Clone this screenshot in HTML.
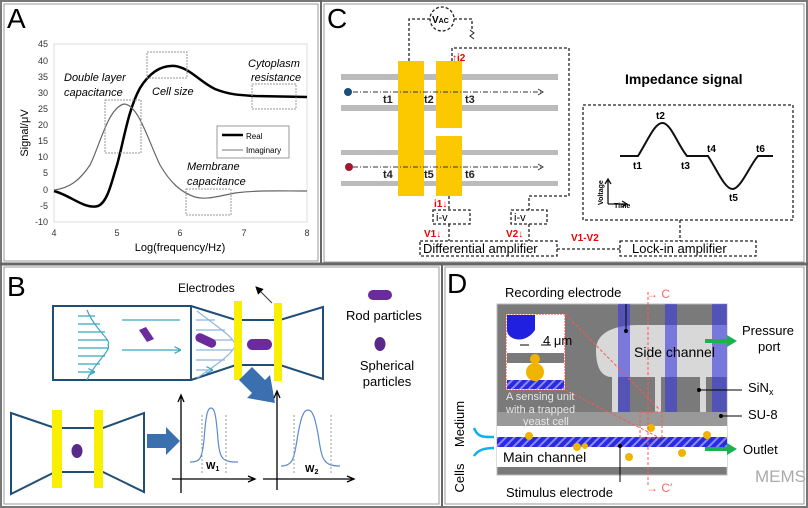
<!DOCTYPE html>
<html><head><meta charset="utf-8"><style>
html,body{margin:0;padding:0;background:#fff}
svg{display:block;font-family:"Liberation Sans",Arial,sans-serif}
</style></head><body>
<svg width="808" height="508" viewBox="0 0 808 508" xmlns="http://www.w3.org/2000/svg">
<defs>
<pattern id="hatch" width="6" height="6" patternUnits="userSpaceOnUse" patternTransform="rotate(45)">
<rect width="6" height="6" fill="#2a2ae0"/><rect width="2" height="6" fill="#8a8af0"/></pattern>
<marker id="ar" markerWidth="8" markerHeight="8" refX="7" refY="4" orient="auto"><path d="M0,0L8,4L0,8z" fill="#000"/></marker>
<marker id="arc" markerWidth="6" markerHeight="6" refX="5" refY="3" orient="auto"><path d="M0,0L6,3L0,6" fill="none" stroke="#3aa6c0"/></marker>
</defs>
<rect x="1" y="1" width="806" height="506" fill="none" stroke="#777" stroke-width="2"/>
<line x1="321" y1="0" x2="321" y2="265" stroke="#666" stroke-width="2"/>
<line x1="0" y1="264" x2="808" y2="264" stroke="#666" stroke-width="3"/>
<line x1="442" y1="264" x2="442" y2="508" stroke="#666" stroke-width="2"/>
<rect x="4" y="4" width="314" height="257" fill="none" stroke="#999"/>
<rect x="324" y="4" width="480" height="258" fill="none" stroke="#999"/>
<rect x="4" y="267" width="435" height="237" fill="none" stroke="#999"/>
<rect x="445" y="267" width="359" height="237" fill="none" stroke="#999"/>

<!-- Panel A -->
<text x="7" y="28" font-size="28">A</text>
<rect x="54" y="44" width="253" height="178" fill="none" stroke="#ddd"/>
<g font-size="9" fill="#333" text-anchor="end">
<text x="48" y="47">45</text><text x="48" y="64">40</text><text x="48" y="80">35</text><text x="48" y="96">30</text><text x="48" y="112">25</text><text x="48" y="128">20</text><text x="48" y="144">15</text><text x="48" y="160">10</text><text x="48" y="176">5</text><text x="48" y="193">0</text><text x="48" y="209">-5</text><text x="48" y="225">-10</text>
</g>
<g font-size="9" fill="#333" text-anchor="middle"><text x="54" y="236">4</text><text x="117" y="236">5</text><text x="180" y="236">6</text><text x="244" y="236">7</text><text x="307" y="236">8</text></g>
<text x="180" y="251" font-size="11" text-anchor="middle">Log(frequency/Hz)</text>
<text transform="translate(28,133) rotate(-90)" font-size="11" text-anchor="middle">Signal/μV</text>
<path d="M54,191 C70,195 85,210 98,206 C108,202 112,180 117,165 C124,140 128,110 140,88 C150,72 162,65 175,66 C190,68 200,82 215,89 C230,95 240,95 255,96 L307,97" fill="none" stroke="#000" stroke-width="2.5"/>
<path d="M54,190 C70,188 80,180 90,165 C100,145 108,108 124,104 C138,104 148,140 160,165 C170,182 180,192 195,197 C205,200 215,197 235,193 C260,190 280,191 307,191" fill="none" stroke="#666" stroke-width="1.2"/>
<g fill="none" stroke="#999" stroke-dasharray="2,1">
<rect x="105" y="100" width="36" height="53"/><rect x="147" y="52" width="40" height="26"/><rect x="252" y="84" width="44" height="25"/><rect x="186" y="189" width="45" height="26"/></g>
<rect x="217" y="126" width="72" height="32" fill="#fff" stroke="#999"/>
<line x1="222" y1="135" x2="243" y2="135" stroke="#000" stroke-width="2.5"/><text x="246" y="139" font-size="8">Real</text>
<line x1="222" y1="150" x2="243" y2="150" stroke="#777"/><text x="246" y="153" font-size="8">Imaginary</text>
<g font-size="11" font-style="italic">
<text x="64" y="81">Double layer</text><text x="64" y="96">capacitance</text>
<text x="152" y="95">Cell size</text>
<text x="248" y="67">Cytoplasm</text><text x="251" y="81">resistance</text>
<text x="187" y="170">Membrane</text><text x="187" y="185">capacitance</text></g>

<!-- Panel C -->
<text x="327" y="28" font-size="28">C</text>
<g fill="#bbb"><rect x="341" y="74" width="217" height="6"/><rect x="341" y="105" width="217" height="6"/><rect x="341" y="150" width="217" height="5"/><rect x="341" y="181" width="217" height="5"/></g>
<g fill="#fcc800"><rect x="398" y="61" width="26" height="135"/><rect x="436" y="61" width="26" height="67"/><rect x="436" y="136" width="26" height="60"/></g>
<g stroke="#333" stroke-dasharray="5,2,1,2" fill="none"><line x1="353" y1="92" x2="543" y2="92"/><line x1="353" y1="167" x2="543" y2="167"/></g>
<path d="M538,89 L543,92 L538,95 M538,164 L543,167 L538,170" fill="none" stroke="#333"/>
<circle cx="348" cy="92" r="4" fill="#1a4f7a"/><circle cx="349" cy="167" r="4" fill="#a01830"/>
<g font-size="11" font-weight="bold" fill="#222"><text x="383" y="103">t1</text><text x="424" y="103">t2</text><text x="465" y="103">t3</text><text x="383" y="178">t4</text><text x="424" y="178">t5</text><text x="465" y="178">t6</text></g>
<g fill="none" stroke="#222" stroke-width="1.3" stroke-dasharray="3,2">
<path d="M409,61 V19 H430"/><circle cx="442" cy="19" r="12"/><path d="M454,19 H472 V30"/>
<path d="M452,61 V48 H569 V196 H529 V210"/><path d="M449,196 V210"/><path d="M449,224 V241"/><path d="M529,224 V241"/>
<rect x="433" y="210" width="37" height="14"/><rect x="511" y="210" width="36" height="14"/>
<rect x="420" y="241" width="137" height="15"/><rect x="620" y="241" width="136" height="15"/>
<rect x="583" y="105" width="210" height="115"/><path d="M557,249 H620"/><path d="M680,220 V241"/></g>
<path d="M470,30 l4,3 l-4,3 l4,3" fill="none" stroke="#222"/>
<text x="432" y="23" font-size="10" font-weight="bold">V<tspan font-size="7">AC</tspan></text>
<g font-size="10" font-weight="bold" fill="#e00"><text x="452" y="61">↑i2</text><text x="434" y="207">i1↓</text><text x="424" y="237">V1↓</text><text x="506" y="237">V2↓</text><text x="571" y="241">V1-V2</text></g>
<g font-size="11"><text x="436" y="221">i-v</text><text x="514" y="221">i-v</text></g>
<g font-size="13"><text x="423" y="253">Differential amplifier</text><text x="632" y="253">Lock-in amplifier</text></g>
<text x="625" y="84" font-size="14" font-weight="bold">Impedance signal</text>
<path d="M620,156 H638 C648,140 655,122 663,123 C671,124 678,145 687,156 H708 C716,168 725,190 733,189 C741,188 750,165 758,156 H773" fill="none" stroke="#111" stroke-width="2"/>
<g font-size="10" font-weight="bold"><text x="656" y="119">t2</text><text x="633" y="169">t1</text><text x="681" y="169">t3</text><text x="707" y="152">t4</text><text x="729" y="201">t5</text><text x="756" y="152">t6</text></g>
<path d="M608,204 V180 M605,184 L608,179 L611,184 M608,204 H626 M622,201 L627,204 L622,207" fill="none" stroke="#111" stroke-width="1.3"/>
<text transform="translate(603,205) rotate(-90)" font-size="7" font-weight="bold">Voltage</text>
<text x="614" y="208" font-size="7" font-weight="bold">Time</text>

<!-- Panel B -->
<text x="7" y="296" font-size="28">B</text>
<g fill="none" stroke="#1f4e79" stroke-width="2">
<rect x="53" y="306" width="138" height="74"/>
<path d="M191,306 L236,320 H280 L323,307 V379 L280,365 H236 L191,380"/>
<path d="M11,413 L55,428 H103 L144,413 V492 L103,472 H55 L11,494 Z"/></g>
<g stroke="#3aa6c0" stroke-width="1.2" fill="none">
<path d="M87,310 C95,330 112,340 108,345 C112,350 95,362 87,380"/>
<path d="M78,316H95M78,324H100M78,332H105M78,340H108M78,348H108M78,356H105M78,364H100M78,372H94" marker-end="url(#arc)"/>
<path d="M122,320H180M122,350H180" marker-end="url(#arc)"/></g>
<g stroke="#8fb4e0" stroke-width="1.2" fill="none">
<path d="M197,311 C215,325 235,338 235,345 C235,352 215,366 197,378"/>
<path d="M196,320H215M196,330H225M196,340H232M196,350H232M196,360H225M196,370H212" marker-end="url(#arc)"/></g>
<path d="M139,330 l7,-3 l8,12 l-7,3z" fill="#6b2a9e"/>
<rect x="195" y="336" width="22" height="9" rx="4.5" fill="#6b2a9e" transform="rotate(25 206 340)"/>
<rect x="247" y="339" width="25" height="11" rx="5.5" fill="#6b2a9e"/>
<g fill="#f8f000"><rect x="234" y="301" width="8" height="79"/><rect x="274" y="303" width="8" height="78"/><rect x="52" y="410" width="10" height="78"/><rect x="94" y="410" width="9" height="78"/></g>
<ellipse cx="77" cy="451" rx="5.5" ry="7" fill="#5a2a8a"/>
<text x="178" y="292" font-size="12">Electrodes</text>
<line x1="272" y1="303" x2="256" y2="287" stroke="#333" marker-end="url(#ar)"/>
<rect x="368" y="290" width="24" height="10" rx="5" fill="#6b2a9e"/>
<text x="346" y="320" font-size="13">Rod particles</text>
<ellipse cx="380" cy="344" rx="5.5" ry="7" fill="#5a2a8a"/>
<text x="387" y="370" font-size="13" text-anchor="middle">Spherical</text><text x="387" y="386" font-size="13" text-anchor="middle">particles</text>
<path d="M147,434 H166 V427 L180,441 L166,455 V448 H147Z" fill="#3a70b0"/>
<path d="M252,367 L265,380 L270,375 L275,403 L247,398 L252,393 L239,380Z" fill="#3a70b0"/>
<g stroke="#000" stroke-width="1.3" fill="none"><path d="M181,493 V396 M178,402 L181,395 L184,402"/><path d="M172,479 H254 M248,476 L255,479 L248,482"/><path d="M277,490 V392 M274,398 L277,391 L280,398"/><path d="M263,479 H353 M347,476 L354,479 L347,482"/></g>
<path d="M190,462 C200,462 202,459 204,440 C206,412 208,408 211,408 C214,408 216,412 218,440 C220,459 222,462 238,462" fill="none" stroke="#5b8ccc" stroke-width="1.2"/>
<path d="M281,466 C292,466 294,460 297,440 C301,415 304,410 308,410 C312,410 315,415 319,440 C322,460 324,466 340,466" fill="none" stroke="#5b8ccc" stroke-width="1.2"/>
<g stroke="#999" stroke-dasharray="2,2"><line x1="202" y1="415" x2="202" y2="475"/><line x1="226" y1="415" x2="226" y2="475"/><line x1="294" y1="415" x2="294" y2="475"/><line x1="331" y1="415" x2="331" y2="475"/></g>
<text x="206" y="469" font-size="10" font-weight="bold">W<tspan font-size="7" dy="2">1</tspan></text>
<text x="305" y="472" font-size="10" font-weight="bold">W<tspan font-size="7" dy="2">2</tspan></text>

<!-- Panel D -->
<text x="447" y="293" font-size="28">D</text>
<rect x="497" y="304" width="230" height="171" fill="#7a7a7a" stroke="#bbb"/>
<rect x="497" y="412" width="230" height="15" fill="#999"/>
<path d="M640,325 H727 V377 H706 V412 H700 V377 H661 V412 H655 V377 H618 V412 H612 V377 C600,377 596,365 596,350 C596,335 610,325 640,325Z" fill="#d8d8d8"/>
<rect x="497" y="426" width="230" height="41" fill="#fff"/>
<rect x="497" y="437" width="230" height="10" fill="url(#hatch)"/>
<g fill="#3a3ae0" opacity="0.6"><rect x="618" y="304" width="12" height="108"/><rect x="665" y="304" width="12" height="108"/><rect x="712" y="304" width="15" height="108"/></g>
<rect x="506" y="314" width="59" height="76" fill="#fff" stroke="#e44" stroke-dasharray="2,1"/>
<path d="M507,315 H535 V330 C525,345 507,340 507,330Z" fill="#2020e0"/>
<rect x="507" y="353" width="57" height="10" fill="#7a7a7a"/>
<rect x="507" y="380" width="57" height="9" fill="url(#hatch)"/>
<circle cx="535" cy="359" r="5" fill="#f0b400"/><circle cx="535" cy="372" r="9" fill="#f0b400"/>
<text x="543" y="345" font-size="13">4 μm</text>
<path d="M551,345 L541,345 M520,345 L529,345" stroke="#000"/>
<g fill="#f0b400"><circle cx="651" cy="428" r="4"/><circle cx="529" cy="436" r="4"/><circle cx="577" cy="447" r="4"/><circle cx="585" cy="446" r="3"/><circle cx="629" cy="457" r="4"/><circle cx="682" cy="453" r="4"/><circle cx="707" cy="435" r="4"/></g>
<g stroke="#f55" stroke-dasharray="3,2" fill="none"><path d="M648,292 V487"/><path d="M565,314 L660,410 M565,390 L660,438"/><rect x="640" y="412" width="22" height="26"/></g>
<text x="646" y="298" font-size="12" fill="#f66">→ C</text><text x="646" y="492" font-size="12" fill="#f66">→ C′</text>
<g font-size="11" fill="#e8e8e8"><text x="506" y="400">A sensing unit</text><text x="506" y="413">with a trapped</text><text x="523" y="425">yeast cell</text></g>
<text x="634" y="357" font-size="14">Side channel</text>
<text x="503" y="462" font-size="14">Main channel</text>
<text x="505" y="297" font-size="13">Recording electrode</text>
<text x="506" y="497" font-size="13">Stimulus electrode</text>
<g font-size="13"><text x="742" y="335">Pressure</text><text x="758" y="351">port</text><text x="748" y="392">SiN<tspan font-size="9" dy="3">x</tspan></text><text x="748" y="419">SU-8</text><text x="743" y="454">Outlet</text></g>
<text x="755" y="482" font-size="17" fill="#aaa">MEMS</text>
<g stroke="#000"><path d="M626,331 V304"/><path d="M699,390 H742"/><path d="M721,416 H742"/><path d="M620,446 V482"/></g>
<circle cx="626" cy="331" r="2"/><circle cx="699" cy="390" r="2"/><circle cx="721" cy="416" r="2"/><circle cx="620" cy="446" r="2"/>
<g fill="#1cb050"><path d="M705,339 H727 V335 L737,341 L727,347 V343 H705Z"/><path d="M705,447 H727 V443 L737,449 L727,455 V451 H705Z"/></g>
<g fill="none" stroke="#10b0f0" stroke-width="2.5"><path d="M474,428 C478,438 484,437 494,437"/><path d="M474,456 C478,450 484,448 494,448"/></g>
<text transform="translate(464,424) rotate(-90)" font-size="13" text-anchor="middle">Medium</text>
<text transform="translate(464,478) rotate(-90)" font-size="13" text-anchor="middle">Cells</text>
</svg>
</body></html>
